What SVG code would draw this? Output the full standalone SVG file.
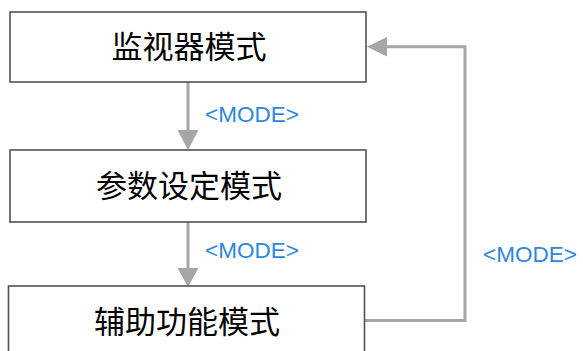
<svg xmlns="http://www.w3.org/2000/svg" width="583" height="351" viewBox="0 0 583 351">
<style>
.box{fill:#fff;stroke:#505050;stroke-width:1.6}
.lbl{font-family:"Noto Sans CJK SC","Noto Sans",sans-serif;font-size:31px;fill:#000;text-anchor:middle}
.mode{font-family:"Liberation Sans",Arial,sans-serif;font-size:22.5px;fill:#2e86de}
.conn{fill:none;stroke:#a6a6a6;stroke-width:3}
.head{fill:#a6a6a6}
</style>
<rect width="583" height="351" fill="#fff"/>
<g id="connectors">
<line class="conn" x1="188" y1="82" x2="188" y2="132"/>
<polygon class="head" points="177.5,130 198.5,130 188,150"/>
<line class="conn" x1="188" y1="222" x2="188" y2="270"/>
<polygon class="head" points="177.5,268 198.5,268 188,287"/>
<polyline class="conn" points="365,320.5 465,320.5 465,46.7 385,46.7"/>
<polygon class="head" points="387,37 387,56.5 367,46.7"/>
<text class="mode" x="205" y="122">&lt;MODE&gt;</text>
<text class="mode" x="205" y="258">&lt;MODE&gt;</text>
<text class="mode" x="483" y="262">&lt;MODE&gt;</text>
</g>
<g id="node1">
<rect class="box" x="10" y="12" width="356" height="70"/>
<text class="lbl" x="189" y="58">监视器模式</text>
</g>
<g id="node2">
<rect class="box" x="10" y="150" width="356" height="72"/>
<text class="lbl" x="189" y="197">参数设定模式</text>
</g>
<g id="node3">
<rect class="box" x="8.5" y="286" width="356" height="80"/>
<text class="lbl" x="187" y="333">辅助功能模式</text>
</g>
</svg>
